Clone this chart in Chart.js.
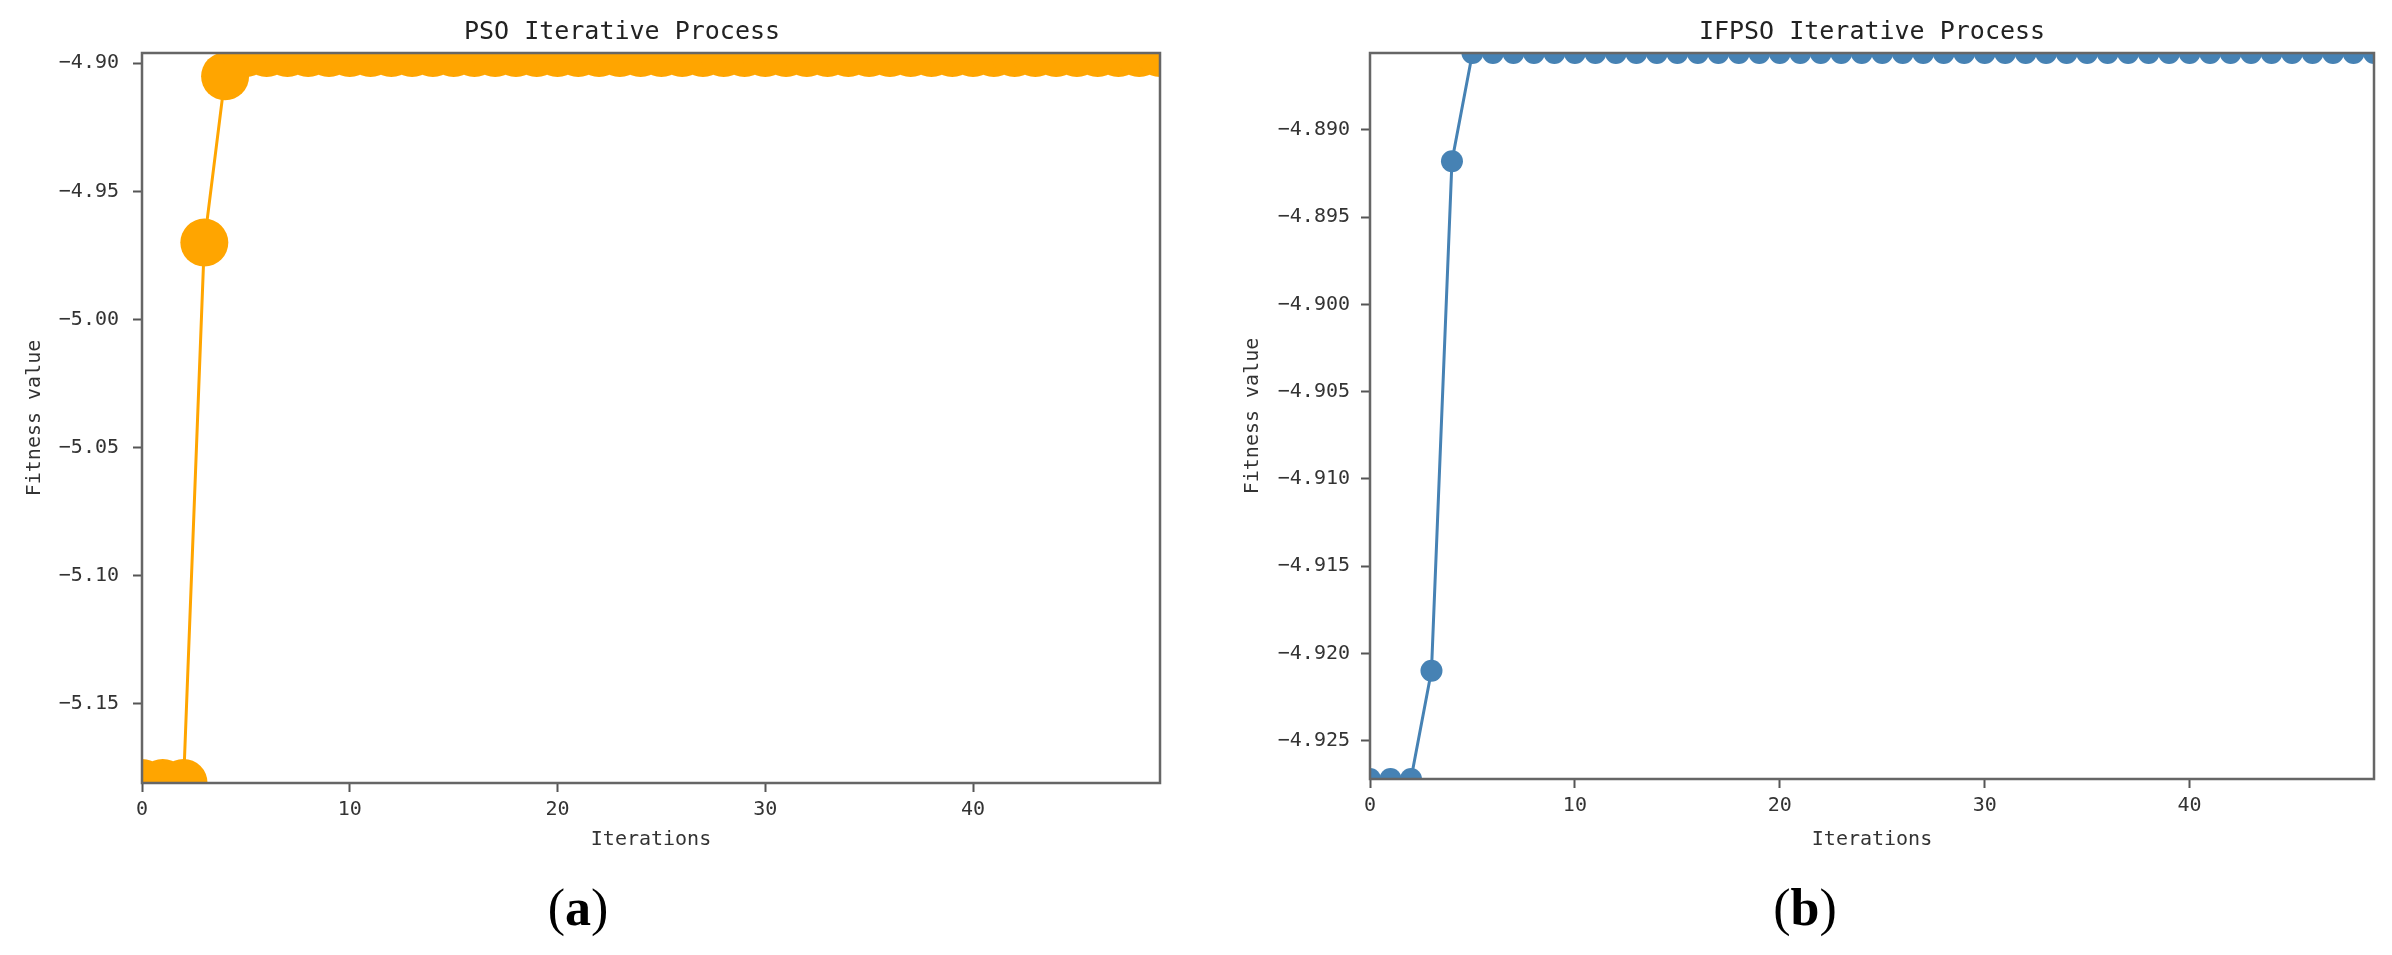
<!DOCTYPE html>
<html>
<head>
<meta charset="utf-8">
<title>PSO / IFPSO Iterative Process</title>
<script src="https://cdn.jsdelivr.net/npm/chart.js@4.4.1/dist/chart.umd.min.js"></script>
<style>
  html, body { margin: 0; padding: 0; background: #fff; }
  body { width: 2392px; height: 955px; position: relative; overflow: hidden; }
  .panel { position: absolute; top: 0; width: 1196px; height: 870px; }
  .plot-title {
    position: absolute; top: 16px;
    font-family: 'DejaVu Sans Mono', 'Liberation Mono', monospace;
    font-size: 25px; line-height: 30px; color: #222;
    white-space: nowrap; transform: translateX(-50%);
  }
  .caption {
    position: absolute; top: 876px;
    font-family: 'Liberation Serif', 'DejaVu Serif', serif;
    font-size: 52px; line-height: 64px; color: #000;
    transform: translateX(-50%);
  }
</style>
</head>
<body>
<div class="panel" style="left:0"><canvas id="psoChart"></canvas></div>
<div class="panel" style="left:1196px"><canvas id="ifpsoChart"></canvas></div>
<div class="plot-title" style="left:622px">PSO Iterative Process</div>
<div class="plot-title" style="left:1872px">IFPSO Iterative Process</div>
<div class="caption" style="left:578px">(<b>a</b>)</div>
<div class="caption" style="left:1805px">(<b>b</b>)</div>
<script>
// iteration index on the x axis
const iterations = [
    0, 1, 2, 3, 4, 5, 6, 7, 8, 9,
    10, 11, 12, 13, 14, 15, 16, 17, 18, 19,
    20, 21, 22, 23, 24, 25, 26, 27, 28, 29,
    30, 31, 32, 33, 34, 35, 36, 37, 38, 39,
    40, 41, 42, 43, 44, 45, 46, 47, 48, 49
];

// best fitness per iteration
const psoFitness = [
    -5.1809, -5.1809, -5.1809, -4.9700, -4.9051, -4.8960, -4.8960, -4.8960, -4.8960, -4.8960,
    -4.8960, -4.8960, -4.8960, -4.8960, -4.8960, -4.8960, -4.8960, -4.8960, -4.8960, -4.8960,
    -4.8960, -4.8960, -4.8960, -4.8960, -4.8960, -4.8960, -4.8960, -4.8960, -4.8960, -4.8960,
    -4.8960, -4.8960, -4.8960, -4.8960, -4.8960, -4.8960, -4.8960, -4.8960, -4.8960, -4.8960,
    -4.8960, -4.8960, -4.8960, -4.8960, -4.8960, -4.8960, -4.8960, -4.8960, -4.8960, -4.8960
];

const ifpsoFitness = [
    -4.9272, -4.9272, -4.9272, -4.9210, -4.8918, -4.8856, -4.8856, -4.8856, -4.8856, -4.8856,
    -4.8856, -4.8856, -4.8856, -4.8856, -4.8856, -4.8856, -4.8856, -4.8856, -4.8856, -4.8856,
    -4.8856, -4.8856, -4.8856, -4.8856, -4.8856, -4.8856, -4.8856, -4.8856, -4.8856, -4.8856,
    -4.8856, -4.8856, -4.8856, -4.8856, -4.8856, -4.8856, -4.8856, -4.8856, -4.8856, -4.8856,
    -4.8856, -4.8856, -4.8856, -4.8856, -4.8856, -4.8856, -4.8856, -4.8856, -4.8856, -4.8856
];

const xTickStep = 10;
const psoTickStep = 0.05;
const ifpsoTickStep = 0.005;

Chart.defaults.font.family = "'DejaVu Sans Mono', 'Liberation Mono', monospace";
Chart.defaults.color = '#333';

// matplotlib style box around the plot area, drawn above the data
const framePlugin = {
    id: 'frame',
    afterDatasetsDraw(chart) {
        const { ctx, chartArea: a } = chart;
        ctx.save();
        ctx.strokeStyle = '#666';
        ctx.lineWidth = 2.5;
        ctx.strokeRect(a.left, a.top, a.right - a.left, a.bottom - a.top);
        ctx.restore();
    }
};

function makeChart(canvasId, values, color, radius, tickStep, digits, box) {
    const ctx = document.getElementById(canvasId).getContext('2d');
    const tickMarks = { drawOnChartArea: false, tickLength: 9, tickWidth: 2, tickColor: '#555' };

    return new Chart(ctx, {
        type: 'line',
        data: {
            datasets: [{
                data: iterations.map((it, i) => ({ x: it, y: values[i] })),
                borderColor: color,
                borderWidth: 3,
                backgroundColor: color,
                pointBackgroundColor: color,
                pointBorderWidth: 0,
                pointRadius: radius,
                pointHoverRadius: radius,
                tension: 0,
                clip: 0
            }]
        },
        options: {
            responsive: true,
            maintainAspectRatio: false,
            animation: false,
            layout: { padding: { left: 0, right: box.padRight, top: 53, bottom: 0 } },
            plugins: { legend: { display: false }, tooltip: { enabled: false } },
            scales: {
                x: {
                    type: 'linear',
                    min: iterations[0],
                    max: iterations[iterations.length - 1],
                    ticks: { stepSize: xTickStep, includeBounds: false, padding: 6, maxRotation: 0, font: { size: 20 } },
                    grid: tickMarks,
                    border: { display: false },
                    title: { display: true, text: 'Iterations', font: { size: 20 }, padding: { top: 0, bottom: 18 } },
                    afterFit(scale) { scale.height = box.xHeight; }
                },
                y: {
                    type: 'linear',
                    min: Math.min(...values),
                    max: Math.max(...values),
                    ticks: {
                        stepSize: tickStep,
                        includeBounds: false,
                        padding: box.tickPad,
                        font: { size: 20 },
                        callback: v => v.toFixed(digits).replace('-', '\u2212')
                    },
                    grid: tickMarks,
                    border: { display: false },
                    title: { display: true, text: 'Fitness value', font: { size: 20 }, padding: { top: box.yTitlePad, bottom: 0 } },
                    afterFit(scale) { scale.width = box.yWidth; }
                }
            }
        },
        plugins: [framePlugin]
    });
}

makeChart('psoChart', psoFitness, '#FFA500', 24, psoTickStep, 2,
    { yWidth: 142, yTitlePad: 23, tickPad: 14, padRight: 36, xHeight: 87 });
makeChart('ifpsoChart', ifpsoFitness, '#4682B4', 11, ifpsoTickStep, 3,
    { yWidth: 174, yTitlePad: 45, tickPad: 11, padRight: 18, xHeight: 91 });
</script>
</body>
</html>
